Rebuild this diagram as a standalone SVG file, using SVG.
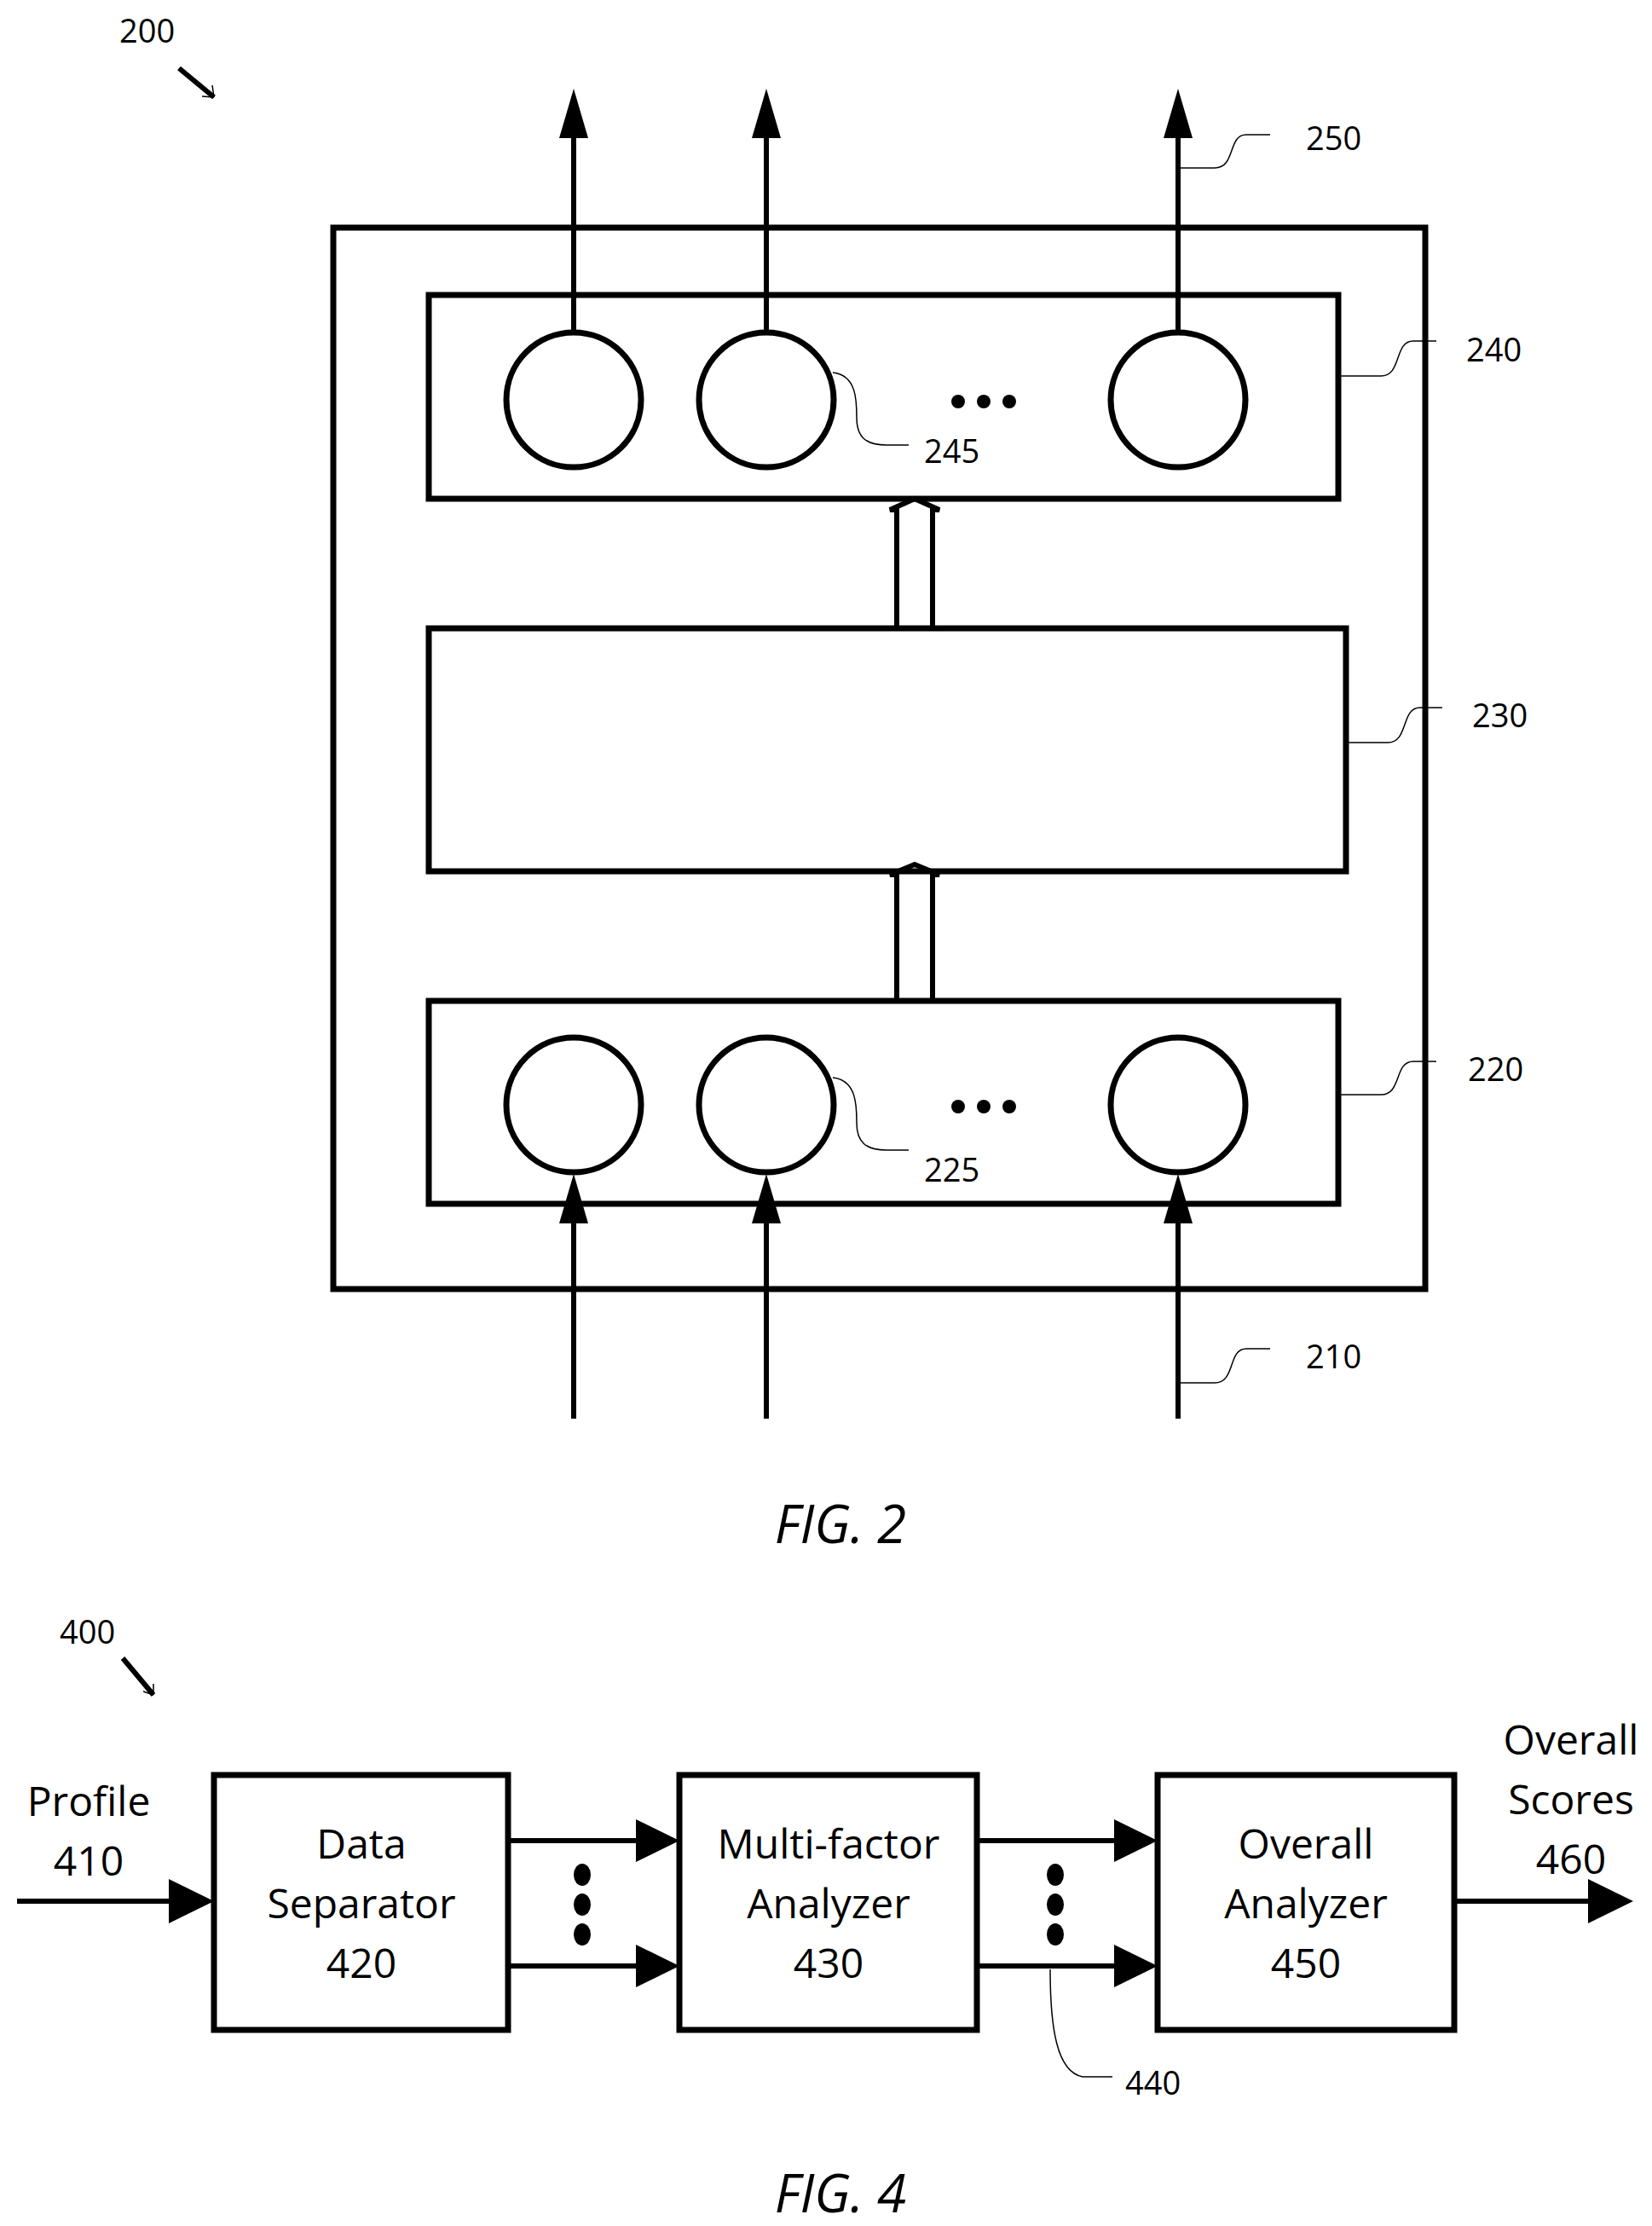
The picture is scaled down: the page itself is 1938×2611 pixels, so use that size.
<svg xmlns="http://www.w3.org/2000/svg" width="1938" height="2611" viewBox="0 0 1938 2611">
<defs>
<marker id="ah" markerWidth="8" markerHeight="8" refX="7" refY="4" orient="auto" markerUnits="strokeWidth"><path d="M0,0 L8,4 L0,8 Z" fill="#000"/></marker>
<marker id="ahs" markerWidth="12" markerHeight="8" refX="11" refY="4" orient="auto" markerUnits="userSpaceOnUse"><path d="M0,0 L12,4 L0,8 Z" fill="#000"/></marker>
</defs>
<style>
.b{fill:none;stroke:#000;stroke-width:7}
.c{fill:#fff;stroke:#000;stroke-width:7}
.ln{fill:none;stroke:#000;stroke-width:6}
.ld{fill:none;stroke:#000;stroke-width:1.5}
.t{font-family:"Open Sans","Noto Sans",sans-serif;font-size:38px;fill:#000}
.bt{font-family:"Open Sans","Noto Sans",sans-serif;font-size:48px;fill:#000;text-anchor:middle}
.f{font-family:"Open Sans","Noto Sans",sans-serif;font-size:62px;font-style:italic;fill:#000;text-anchor:middle}
</style>
<rect fill="#fff" width="1938" height="2611"/>
<g id="fig2-label"><text class="t" x="140" y="50">200</text></g>
<g id="box-outer"><rect class="b" x="391" y="267" width="1281" height="1245"/></g>
<g id="box-240"><rect class="b" x="503" y="346" width="1067" height="239"/>
<circle class="c" cx="673" cy="469" r="79"/><circle class="c" cx="899" cy="469" r="79"/><circle class="c" cx="1382" cy="469" r="79"/>
<circle cx="1124" cy="471" r="8"/><circle cx="1154" cy="471" r="8"/><circle cx="1184" cy="471" r="8"/>
<text class="t" x="1720" y="424">240</text><text class="t" x="1084" y="543">245</text></g>
<g id="box-230"><rect class="b" x="503" y="737" width="1076" height="285"/><text class="t" x="1727" y="853">230</text></g>
<g id="box-220"><rect class="b" x="503" y="1174" width="1067" height="238"/>
<circle class="c" cx="673" cy="1296" r="79"/><circle class="c" cx="899" cy="1296" r="79"/><circle class="c" cx="1382" cy="1296" r="79"/>
<circle cx="1124" cy="1298" r="8"/><circle cx="1154" cy="1298" r="8"/><circle cx="1184" cy="1298" r="8"/>
<text class="t" x="1722" y="1268">220</text><text class="t" x="1084" y="1386">225</text></g>
<g id="labels-2"><text class="t" x="1532" y="176">250</text><text class="t" x="1532" y="1605">210</text><text class="f" x="986" y="1810">FIG. 2</text></g>
<g id="connectors-2">
<line class="ln" x1="251" y1="114" x2="210" y2="80"/>
<path d="M251,114 l-14,-1 M251,114 l-2,-14" class="ld" stroke-width="3"/>
<g fill="#000">
<path d="M673,104 L656,162 L690,162 Z"/><path d="M899,104 L882,162 L916,162 Z"/><path d="M1382,104 L1365,162 L1399,162 Z"/>
<path d="M673,1377 L656,1435 L690,1435 Z"/><path d="M899,1377 L882,1435 L916,1435 Z"/><path d="M1382,1377 L1365,1435 L1399,1435 Z"/>
</g>
<line class="ln" x1="673" y1="160" x2="673" y2="390"/><line class="ln" x1="899" y1="160" x2="899" y2="390"/><line class="ln" x1="1382" y1="160" x2="1382" y2="390"/>
<line class="ln" x1="673" y1="1430" x2="673" y2="1664"/><line class="ln" x1="899" y1="1430" x2="899" y2="1664"/><line class="ln" x1="1382" y1="1430" x2="1382" y2="1664"/>
<path class="ln" d="M1052,737 V598 L1044,598 L1073,585 L1102,598 L1094,598 V737" stroke-width="5"/>
<path class="ln" d="M1052,1174 V1026 L1044,1026 L1073,1014 L1102,1026 L1094,1026 V1174" stroke-width="5"/>
<path class="ld" d="M1385,197 H1425 C1450,197 1440,158 1462,158 H1490"/>
<path class="ld" d="M1570,441 H1620 C1645,441 1635,400 1658,400 H1685"/>
<path class="ld" d="M1579,871 H1628 C1653,871 1643,830 1666,830 H1692"/>
<path class="ld" d="M1570,1284 H1620 C1645,1284 1635,1245 1658,1245 H1685"/>
<path class="ld" d="M1385,1622 H1425 C1450,1622 1440,1582 1462,1582 H1490"/>
<path class="ld" d="M977,437 C1005,440 1005,470 1005,490 C1005,512 1015,522 1040,522 H1066"/>
<path class="ld" d="M977,1264 C1005,1267 1005,1297 1005,1317 C1005,1339 1015,1349 1040,1349 H1066"/>
</g>
<g id="fig4-label"><text class="t" x="70" y="1928">400</text></g>
<g id="data-separator"><rect class="b" x="251" y="2082" width="345" height="299"/>
<text class="bt" x="424" y="2180">Data</text><text class="bt" x="424" y="2250">Separator</text><text class="bt" x="424" y="2320">420</text></g>
<g id="multi-factor"><rect class="b" x="797" y="2082" width="349" height="299"/>
<text class="bt" x="972" y="2180">Multi-factor</text><text class="bt" x="972" y="2250">Analyzer</text><text class="bt" x="972" y="2320">430</text></g>
<g id="overall-analyzer"><rect class="b" x="1358" y="2082" width="348" height="299"/>
<text class="bt" x="1532" y="2180">Overall</text><text class="bt" x="1532" y="2250">Analyzer</text><text class="bt" x="1532" y="2320">450</text></g>
<g id="labels-4">
<text class="bt" x="104" y="2130">Profile</text><text class="bt" x="104" y="2200">410</text>
<text class="bt" x="1843" y="2058">Overall</text><text class="bt" x="1843" y="2128">Scores</text><text class="bt" x="1843" y="2198">460</text>
<text class="t" x="1320" y="2457">440</text><text class="f" x="986" y="2595">FIG. 4</text></g>
<g id="connectors-4">
<line class="ln" x1="180" y1="1988" x2="144" y2="1945" stroke-width="2.5"/>
<path class="ld" d="M180,1988 l-12,-4 M180,1988 l0,-13" stroke-width="2.5"/>
<g fill="#000">
<path d="M251,2230 L198,2204 L198,2256 Z"/><path d="M797,2159 L746,2134 L746,2184 Z"/><path d="M797,2306 L746,2281 L746,2331 Z"/>
<path d="M1358,2159 L1307,2134 L1307,2184 Z"/><path d="M1358,2306 L1307,2281 L1307,2331 Z"/><path d="M1916,2230 L1863,2204 L1863,2256 Z"/>
<ellipse cx="683" cy="2199" rx="10" ry="13"/><ellipse cx="683" cy="2234" rx="10" ry="13"/><ellipse cx="683" cy="2269" rx="10" ry="13"/>
<ellipse cx="1238" cy="2199" rx="10" ry="13"/><ellipse cx="1238" cy="2234" rx="10" ry="13"/><ellipse cx="1238" cy="2269" rx="10" ry="13"/>
</g>
<g class="ln" stroke-width="11">
<line x1="20" y1="2230" x2="205" y2="2230"/><line x1="596" y1="2159" x2="752" y2="2159"/><line x1="596" y1="2306" x2="752" y2="2306"/>
<line x1="1146" y1="2159" x2="1313" y2="2159"/><line x1="1146" y1="2306" x2="1313" y2="2306"/><line x1="1706" y1="2230" x2="1870" y2="2230"/>
</g>
<path class="ld" d="M1232,2310 C1232,2380 1240,2430 1270,2436 H1305"/>
</g>
</svg>
